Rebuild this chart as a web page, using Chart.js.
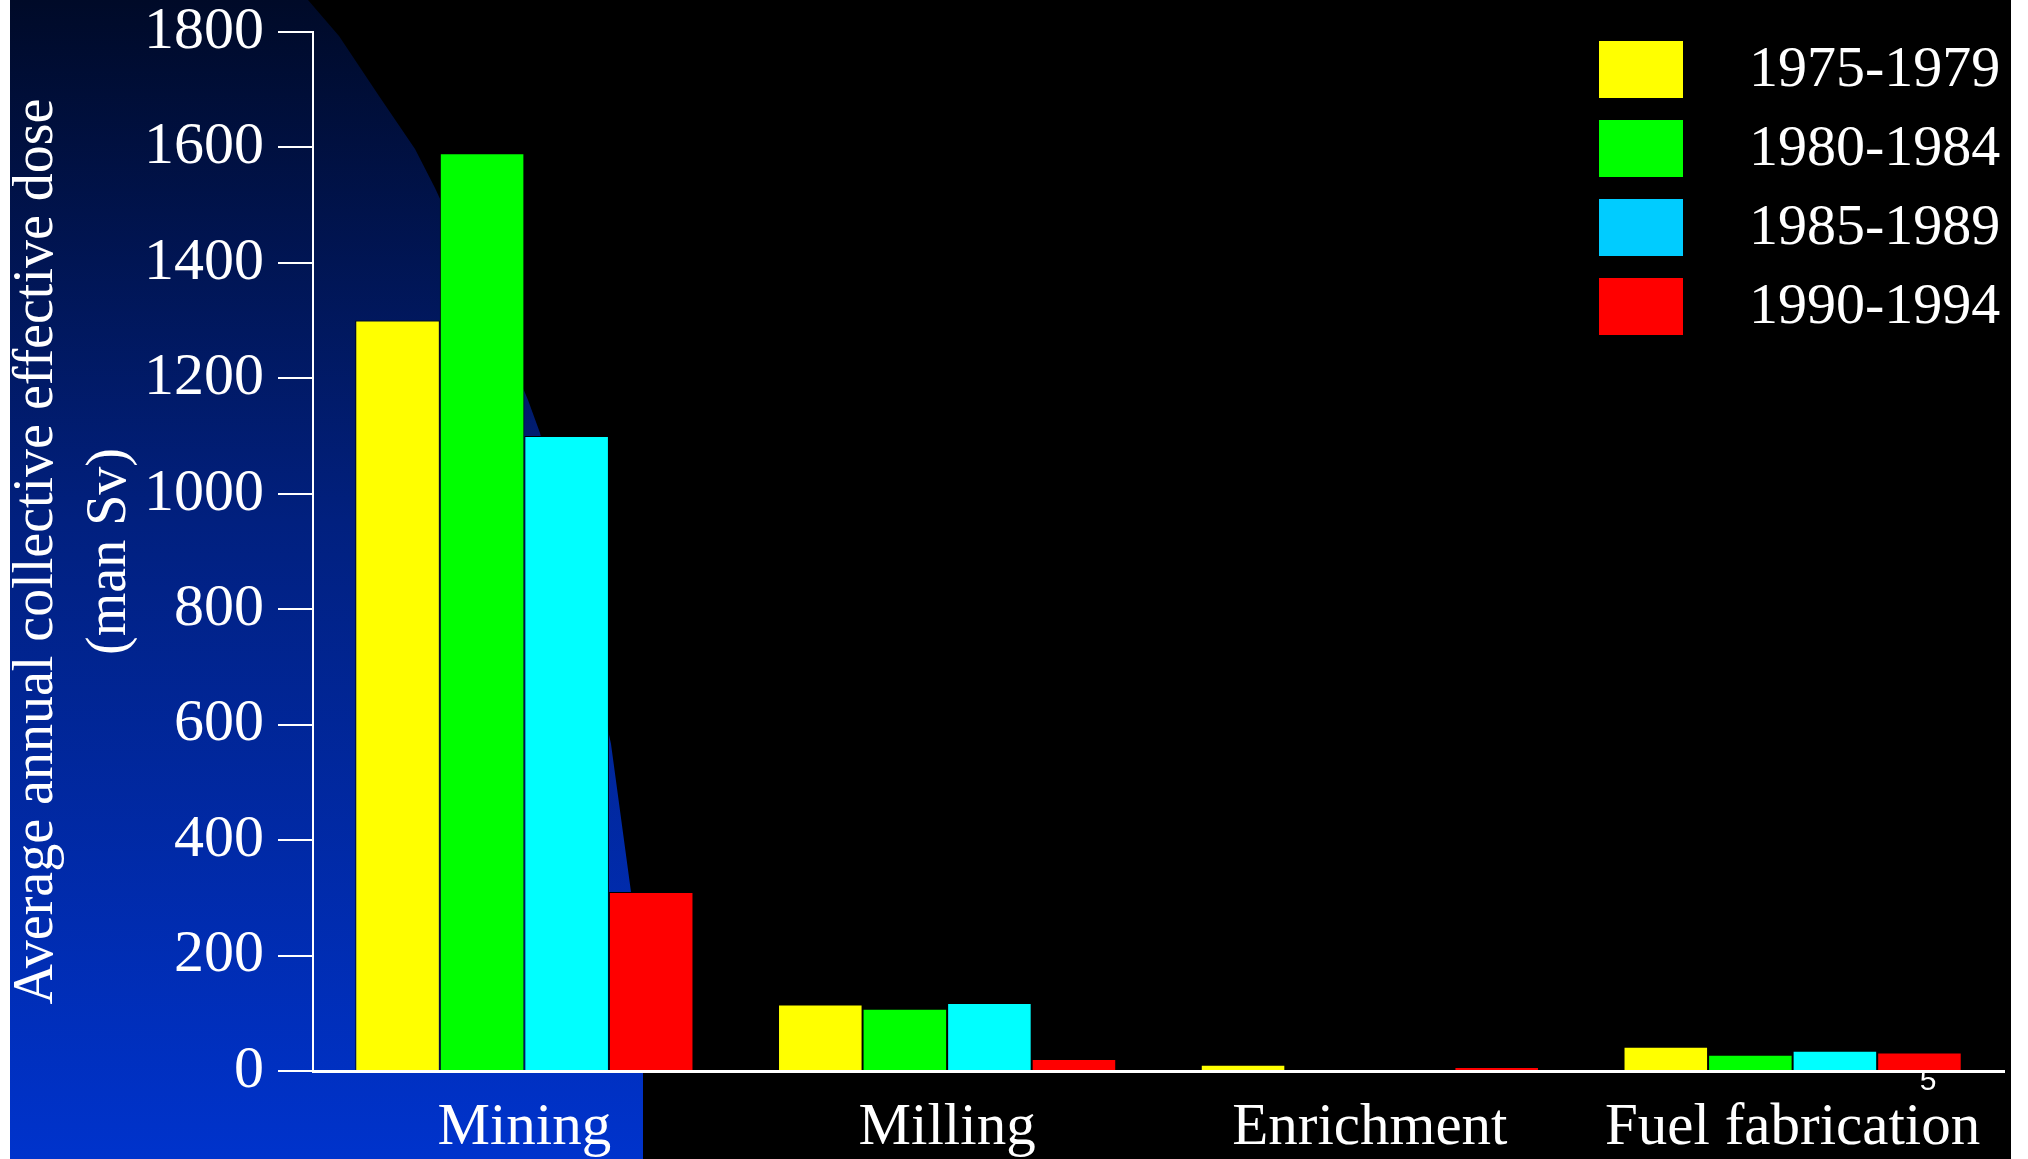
<!DOCTYPE html>
<html>
<head>
<meta charset="utf-8">
<script src="https://cdn.jsdelivr.net/npm/chart.js@4.4.0/dist/chart.umd.min.js"></script>
<style>
html, body { margin: 0; padding: 0; background: #000; overflow: hidden; }
canvas { display: block; }
</style>
</head>
<body>
<canvas id="myChart" width="2028" height="1159"></canvas>
<script>
const categories = ['Mining', 'Milling', 'Enrichment', 'Fuel fabrication'];
const periods = ['1975-1979', '1980-1984', '1985-1989', '1990-1994'];
const dose7579 = [1300, 115, 11, 42];
const dose8084 = [1590, 108, 0, 28];
const dose8589 = [1100, 118, 0, 35];
const dose9094 = [310, 21, 7, 32];
const barColors = ['#ffff00', '#00ff00', '#00ffff', '#ff0000'];
const legendColors = ['#ffff00', '#00ff00', '#00ccff', '#ff0000'];
const yMax = 1800;
const yStep = 200;
const yTitle = ['Average annual collective effective dose', '(man Sv)'];
const slideNumber = '5';

const serif = "'Liberation Serif', 'Times New Roman', serif";
Chart.defaults.font.family = serif;
Chart.defaults.color = '#ffffff';

// slide background: black with the blue gradient panel on the left
const backdrop = {
    id: 'backdrop',
    beforeDraw(chart) {
        const ctx = chart.ctx;
        const w = chart.width, h = chart.height;
        ctx.save();
        ctx.fillStyle = '#000';
        ctx.fillRect(0, 0, w, h);

        const grad = ctx.createLinearGradient(0, 0, 0, h);
        grad.addColorStop(0, '#000a28');
        grad.addColorStop(0.45, '#01207f');
        grad.addColorStop(1, '#0033cc');
        ctx.fillStyle = grad;
        ctx.beginPath();
        ctx.moveTo(10, 0);
        ctx.lineTo(308, 0);
        ctx.lineTo(339, 36);
        ctx.lineTo(379, 96);
        ctx.lineTo(415, 149);
        ctx.lineTo(435, 188);
        ctx.lineTo(482, 290);
        ctx.lineTo(528, 400);
        ctx.lineTo(540, 433);
        ctx.lineTo(580, 600);
        ctx.lineTo(611, 744);
        ctx.lineTo(631, 892);
        ctx.lineTo(638, 1000);
        ctx.lineTo(643, 1071);
        ctx.lineTo(643, h);
        ctx.lineTo(10, h);
        ctx.closePath();
        ctx.fill();

        ctx.fillStyle = '#ffffff';
        ctx.fillRect(0, 0, 10, h);
        ctx.fillRect(2011, 0, w - 2011, h);
        ctx.restore();
    },
    afterDraw(chart) {
        const ctx = chart.ctx;
        const area = chart.chartArea;
        ctx.save();
        // legend
        ctx.font = '58px ' + serif;
        ctx.textBaseline = 'middle';
        ctx.textAlign = 'left';
        chart.data.datasets.forEach((ds, i) => {
            const top = 41 + i * 79;
            ctx.fillStyle = legendColors[i];
            ctx.fillRect(1599, top, 84, 57);
            ctx.fillStyle = '#ffffff';
            ctx.fillText(ds.label, 1749, top + 30);
        });
        // slide number
        ctx.font = "30px 'Liberation Sans Narrow', 'Liberation Sans', sans-serif";
        ctx.textAlign = 'center';
        ctx.fillText(slideNumber, 1928, area.bottom + 11);
        ctx.restore();
    }
};

const config = {
    type: 'bar',
    data: {
        labels: categories,
        datasets: [dose7579, dose8084, dose8589, dose9094].map((vals, i) => ({
            label: periods[i],
            data: vals,
            backgroundColor: barColors[i],
            borderColor: '#000000',
            borderWidth: 1
        }))
    },
    options: {
        responsive: false,
        animation: false,
        events: [],
        layout: { padding: { left: 0, right: 24, top: 32, bottom: 0 } },
        datasets: {
            bar: { categoryPercentage: 0.8, barPercentage: 1.0 }
        },
        scales: {
            x: {
                grid: { display: false, drawTicks: false },
                border: { color: '#ffffff', width: 3 },
                ticks: {
                    color: '#ffffff',
                    font: { size: 59 },
                    padding: 22,
                    maxRotation: 0,
                    autoSkip: false
                },
                afterFit: s => {
                    s.height = 88;
                    s.paddingLeft = 0;
                    s.paddingRight = 0;
                }
            },
            y: {
                min: 0,
                max: yMax,
                ticks: {
                    stepSize: yStep,
                    color: '#ffffff',
                    font: { size: 60 },
                    padding: 14,
                    callback: v => String(v)
                },
                grid: {
                    drawOnChartArea: false,
                    drawTicks: true,
                    tickLength: 35,
                    color: '#ffffff',
                    lineWidth: 2
                },
                border: { color: '#ffffff', width: 2 },
                title: {
                    display: true,
                    text: yTitle,
                    color: '#ffffff',
                    font: { size: 56, lineHeight: 1.3 },
                    padding: { top: 1, bottom: 0 }
                },
                afterFit: s => {
                    s.width = 313;
                    s.paddingTop = 0;
                    s.paddingBottom = 0;
                }
            }
        },
        plugins: {
            legend: { display: false },
            tooltip: { enabled: false }
        }
    },
    plugins: [backdrop]
};

function buildChart() {
    const ctx = document.getElementById('myChart').getContext('2d');
    return new Chart(ctx, config);
}

window.addEventListener('load', () => {
    buildChart();
});
</script>
</body>
</html>
